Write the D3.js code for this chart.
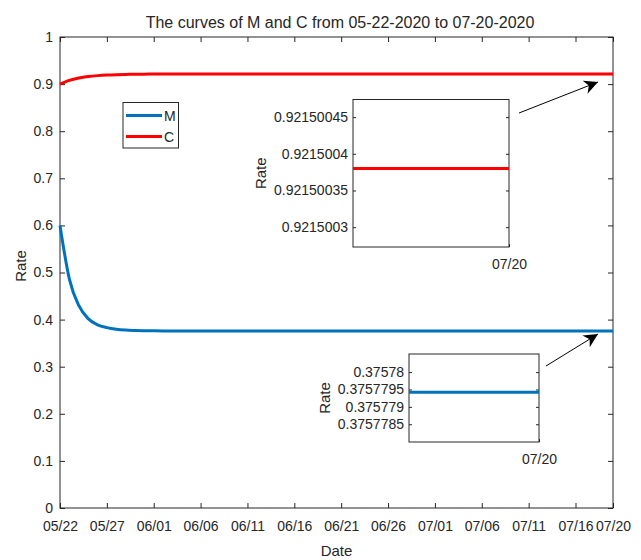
<!DOCTYPE html>
<html>
<head>
<meta charset="utf-8">
<script src="https://cdn.jsdelivr.net/npm/d3@7"></script>
<style>
body { margin: 0; background: #fff; }
svg text { font-family: "Liberation Sans", Arial, sans-serif; fill: #262626; }
</style>
</head>
<body>
<div id="viz"></div>
<script>
var width = 641
var height = 560

// x categories: one value per day, 05/22/2020 .. 07/20/2020
var startDate = new Date(2020, 4, 22)
var endDate = new Date(2020, 6, 20)
var days = d3.timeDay.range(startDate, d3.timeDay.offset(endDate, 1))

var mValues = [0.600, 0.486, 0.430, 0.402, 0.389, 0.383, 0.3795, 0.3778, 0.3770, 0.3765,
    0.3762, 0.3760, 0.3759, 0.3758, 0.3758, 0.3758, 0.3758, 0.3758, 0.3758, 0.3758,
    0.3758, 0.3758, 0.3758, 0.3758, 0.3758, 0.3757, 0.3757, 0.3757, 0.3758, 0.3758,
    0.3759, 0.3759, 0.3758, 0.3758, 0.3758, 0.3758, 0.3758, 0.3758, 0.3758, 0.3758,
    0.3758, 0.3758, 0.3758, 0.3758, 0.3758, 0.3758, 0.3758, 0.3758, 0.3758, 0.3758,
    0.3758, 0.3758, 0.3758, 0.3758, 0.3758, 0.3758, 0.3758, 0.3758, 0.3758, 0.3758]
var cValues = [0.9000, 0.9078, 0.9128, 0.9160, 0.9180, 0.9193, 0.9201, 0.9206, 0.9209, 0.9211,
    0.9213, 0.9214, 0.9214, 0.9215, 0.9215, 0.9215, 0.9215, 0.9215, 0.9215, 0.9215,
    0.9215, 0.9215, 0.9215, 0.9215, 0.9215, 0.9215, 0.9215, 0.9215, 0.9215, 0.9215,
    0.9215, 0.9215, 0.9215, 0.9215, 0.9215, 0.9215, 0.9215, 0.9215, 0.9215, 0.9215,
    0.9215, 0.9215, 0.9215, 0.9215, 0.9215, 0.9215, 0.9215, 0.9215, 0.9215, 0.9215,
    0.9215, 0.9215, 0.9215, 0.9215, 0.9215, 0.9215, 0.9215, 0.9215, 0.9215, 0.9215]

var xTickLabels = ["05/22", "05/27", "06/01", "06/06", "06/11", "06/16", "06/21",
    "06/26", "07/01", "07/06", "07/11", "07/16", "07/20"]
var yTicks = [0, 0.1, 0.2, 0.3, 0.4, 0.5, 0.6, 0.7, 0.8, 0.9, 1]

// zoomed values near 07/20
var cZoomValue = 0.92150038
var cZoomTicks = [0.9215003, 0.92150035, 0.9215004, 0.92150045]
var cZoomTickLabels = ["0.9215003", "0.92150035", "0.9215004", "0.92150045"]
var mZoomValue = 0.37577942
var mZoomTicks = [0.3757785, 0.375779, 0.3757795, 0.37578]
var mZoomTickLabels = ["0.3757785", "0.375779", "0.3757795", "0.37578"]

var blue = "#0072BD"
var red = "#FF0000"
var axisColor = "#262626"

var svg = d3.select("#viz")
    .append("svg")
    .attr("width", width)
    .attr("height", height);

var parseMD = function (s) {
    var p = s.split("/");
    return new Date(2020, +p[0] - 1, +p[1]);
}

function styleAxis(g) {
    g.selectAll("line").attr("stroke", axisColor);
    g.selectAll("text").attr("fill", axisColor).style("font-size", "14px");
}

// main axes
var plotLeft = 60, plotRight = 613, plotTop = 37, plotBottom = 508;
var x = d3.scaleTime().domain([startDate, endDate]).range([plotLeft, plotRight]);
var y = d3.scaleLinear().domain([0, 1]).range([plotBottom, plotTop]);
var xTickDates = xTickLabels.map(parseMD);

svg.append("g")
    .attr("transform", "translate(0," + plotBottom + ")")
    .call(d3.axisBottom(x).tickValues(xTickDates).tickSize(-5).tickSizeOuter(0).tickPadding(13)
        .tickFormat(function (d, i) { return xTickLabels[i]; }))
    .call(styleAxis)
    .select(".domain").remove();
svg.append("g")
    .attr("transform", "translate(0," + plotTop + ")")
    .call(d3.axisTop(x).tickValues(xTickDates).tickSize(-5).tickSizeOuter(0).tickFormat(""))
    .call(styleAxis)
    .select(".domain").remove();
svg.append("g")
    .attr("transform", "translate(" + plotLeft + ",0)")
    .call(d3.axisLeft(y).tickValues(yTicks).tickSize(-5).tickSizeOuter(0).tickPadding(7)
        .tickFormat(d3.format("~g")))
    .call(styleAxis)
    .select(".domain").remove();
svg.append("g")
    .attr("transform", "translate(" + plotRight + ",0)")
    .call(d3.axisRight(y).tickValues(yTicks).tickSize(-5).tickSizeOuter(0).tickFormat(""))
    .call(styleAxis)
    .select(".domain").remove();
svg.append("rect")
    .attr("x", plotLeft).attr("y", plotTop)
    .attr("width", plotRight - plotLeft).attr("height", plotBottom - plotTop)
    .attr("fill", "none").attr("stroke", axisColor).attr("stroke-width", 1);

var line = function (vals) {
    return d3.line()
        .x(function (d, i) { return x(days[i]); })
        .y(function (d) { return y(d); })
        .curve(d3.curveMonotoneX)(vals);
}
svg.append("path").attr("d", line(mValues))
    .attr("fill", "none").attr("stroke", blue).attr("stroke-width", 3);
svg.append("path").attr("d", line(cValues))
    .attr("fill", "none").attr("stroke", red).attr("stroke-width", 3);

// texts
svg.append("text")
    .attr("x", 340).attr("y", 28)
    .attr("text-anchor", "middle")
    .style("font-size", "16px")
    .text("The curves of M and C from 05-22-2020 to 07-20-2020");
svg.append("text")
    .attr("x", (plotLeft + plotRight) / 2).attr("y", 556)
    .attr("text-anchor", "middle")
    .style("font-size", "15px")
    .text("Date");
svg.append("text")
    .attr("transform", "translate(26,266) rotate(-90)")
    .attr("text-anchor", "middle")
    .style("font-size", "15px")
    .text("Rate");

// legend
var legend = svg.append("g");
legend.append("rect")
    .attr("x", 123).attr("y", 102.5).attr("width", 55.5).attr("height", 45.5)
    .attr("fill", "#fff").attr("stroke", axisColor).attr("stroke-width", 1);
[["M", blue, 115.5], ["C", red, 136.5]].forEach(function (item) {
    legend.append("line")
        .attr("x1", 126).attr("x2", 162).attr("y1", item[2]).attr("y2", item[2])
        .attr("stroke", item[1]).attr("stroke-width", 3);
    legend.append("text")
        .attr("x", 164).attr("y", item[2] + 5)
        .style("font-size", "14px")
        .text(item[0]);
});

// zoom insets
function addInset(box, value, ticks, tickLabels, color, rateX) {
    var ix = d3.scaleTime().domain([d3.timeDay.offset(endDate, -1), endDate]).range([box.x0, box.x1]);
    var iy = d3.scaleLinear().domain(box.domain).range([box.y1, box.y0]);
    var g = svg.append("g");
    g.append("rect")
        .attr("x", box.x0).attr("y", box.y0)
        .attr("width", box.x1 - box.x0).attr("height", box.y1 - box.y0)
        .attr("fill", "#fff").attr("stroke", axisColor).attr("stroke-width", 1);
    g.append("g")
        .attr("transform", "translate(" + box.x0 + ",0)")
        .call(d3.axisLeft(iy).tickValues(ticks).tickSize(-3).tickSizeOuter(0).tickPadding(5)
            .tickFormat(function (d, i) { return tickLabels[i]; }))
        .call(styleAxis)
        .select(".domain").remove();
    g.append("g")
        .attr("transform", "translate(" + box.x1 + ",0)")
        .call(d3.axisRight(iy).tickValues(ticks).tickSize(-3).tickSizeOuter(0).tickFormat(""))
        .call(styleAxis)
        .select(".domain").remove();
    g.append("g")
        .attr("transform", "translate(0," + box.y1 + ")")
        .call(d3.axisBottom(ix).tickValues([endDate]).tickSize(-3).tickSizeOuter(0).tickPadding(12)
            .tickFormat(function () { return "07/20"; }))
        .call(styleAxis)
        .select(".domain").remove();
    g.append("path")
        .attr("d", d3.line()
            .x(function (d) { return ix(d); })
            .y(function () { return iy(value); })([ix.domain()[0], endDate]))
        .attr("stroke", color).attr("stroke-width", 3).attr("fill", "none");
    g.append("text")
        .attr("transform", "translate(" + rateX + "," + (box.y0 + box.y1) / 2 + ") rotate(-90)")
        .attr("text-anchor", "middle")
        .style("font-size", "15px")
        .text("Rate");
}

addInset({x0: 353, x1: 509, y0: 99.5, y1: 247, domain: [0.921500273, 0.921500474]},
    cZoomValue, cZoomTicks, cZoomTickLabels, red, 266);
addInset({x0: 409, x1: 539, y0: 354, y1: 442, domain: [0.37577799, 0.37578052]},
    mZoomValue, mZoomTicks, mZoomTickLabels, blue, 330);

// arrows
svg.append("defs").append("marker")
    .attr("id", "head")
    .attr("viewBox", "0 0 10 10")
    .attr("refX", 10).attr("refY", 5)
    .attr("markerWidth", 14).attr("markerHeight", 14)
    .attr("markerUnits", "userSpaceOnUse")
    .attr("orient", "auto")
    .append("path")
    .attr("d", "M0,0 L10,5 L0,10 L3,5 Z")
    .attr("fill", "#000");
[[519, 113, 598, 82], [546, 366, 598, 334]].forEach(function (a) {
    svg.append("line")
        .attr("x1", a[0]).attr("y1", a[1]).attr("x2", a[2]).attr("y2", a[3])
        .attr("stroke", "#000").attr("stroke-width", 1)
        .attr("marker-end", "url(#head)");
});
</script>
</body>
</html>
